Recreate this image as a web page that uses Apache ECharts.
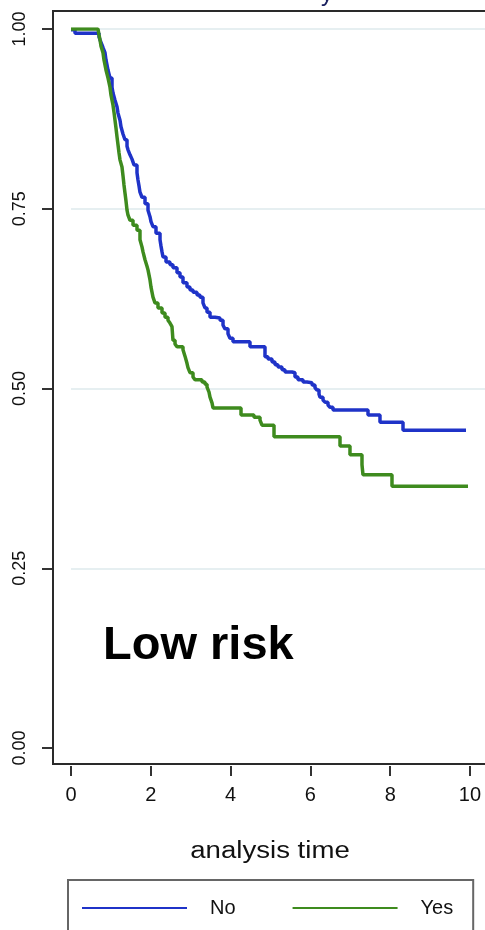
<!DOCTYPE html>
<html>
<head>
<meta charset="utf-8">
<script src="https://cdn.jsdelivr.net/npm/echarts@6/dist/echarts.min.js"></script>
<style>
html,body{margin:0;padding:0;background:#fff;}
#chart{width:485px;height:930px;}
</style>
</head>
<body>
<div id="chart"></div>
<script>
// Kaplan-Meier survival estimates: [analysis time, survival]
var seriesNames = ['No', 'Yes'];
var noData = [
  [0,0.999],[0.100,0.994],[0.702,0.989],[0.727,0.985],[0.777,0.978],[0.802,0.974],[0.852,0.967],[0.877,0.957],
  [0.902,0.950],[0.927,0.943],[0.977,0.932],[1.028,0.919],[1.053,0.911],[1.103,0.901],[1.153,0.892],[1.178,0.883],
  [1.228,0.873],[1.253,0.864],[1.303,0.854],[1.353,0.846],[1.404,0.837],[1.429,0.832],[1.479,0.825],[1.529,0.819],
  [1.579,0.811],[1.654,0.800],[1.679,0.790],[1.704,0.782],[1.729,0.773],[1.779,0.766],[1.855,0.757],[1.930,0.748],
  [1.980,0.739],[2.005,0.732],[2.055,0.725],[2.130,0.716],[2.231,0.707],[2.256,0.698],[2.281,0.690],[2.306,0.683],
  [2.381,0.676],[2.481,0.672],[2.556,0.668],[2.657,0.661],[2.732,0.655],[2.807,0.647],[2.907,0.641],[2.982,0.637],
  [3.058,0.634],[3.158,0.630],[3.233,0.627],[3.308,0.619],[3.358,0.612],[3.409,0.606],[3.484,0.599],[3.609,0.598],
  [3.734,0.595],[3.810,0.588],[3.860,0.583],[3.935,0.576],[3.985,0.570],[4.060,0.565],[4.486,0.558],[4.862,0.544],
  [4.937,0.541],[5.038,0.537],[5.113,0.533],[5.188,0.530],[5.288,0.526],[5.363,0.523],[5.539,0.522],[5.614,0.516],
  [5.689,0.512],[5.815,0.509],[5.915,0.508],[6.040,0.505],[6.115,0.501],[6.165,0.498],[6.216,0.492],[6.241,0.488],
  [6.316,0.484],[6.366,0.481],[6.441,0.477],[6.491,0.474],[6.566,0.470],[7.444,0.463],[7.744,0.453],[8.321,0.442],
  [9.900,0.442]
];
var yesData = [
  [0,1.000],[0.677,0.999],[0.702,0.992],[0.727,0.985],[0.752,0.976],[0.802,0.967],[0.827,0.957],[0.852,0.950],
  [0.877,0.943],[0.927,0.932],[0.977,0.919],[1.003,0.908],[1.028,0.901],[1.053,0.894],[1.078,0.884],[1.103,0.873],
  [1.128,0.862],[1.153,0.850],[1.178,0.839],[1.203,0.828],[1.228,0.818],[1.278,0.808],[1.303,0.796],[1.328,0.783],
  [1.353,0.772],[1.378,0.761],[1.404,0.748],[1.429,0.741],[1.479,0.734],[1.554,0.727],[1.654,0.720],[1.729,0.707],
  [1.779,0.697],[1.805,0.690],[1.855,0.679],[1.905,0.670],[1.930,0.665],[1.980,0.651],[2.005,0.641],[2.055,0.627],
  [2.105,0.619],[2.180,0.612],[2.281,0.605],[2.356,0.599],[2.431,0.595],[2.481,0.591],[2.531,0.586],[2.556,0.567],
  [2.607,0.562],[2.657,0.558],[2.807,0.554],[2.857,0.545],[2.907,0.535],[2.932,0.529],[2.982,0.522],[3.058,0.516],
  [3.108,0.512],[3.283,0.509],[3.358,0.506],[3.409,0.502],[3.459,0.495],[3.484,0.488],[3.534,0.480],[3.559,0.473],
  [4.261,0.463],[4.586,0.460],[4.737,0.456],[4.787,0.449],[5.088,0.433],[6.742,0.420],[6.992,0.408],[7.293,0.394],
  [7.318,0.380],[8.045,0.364],[9.950,0.364]
];
var xTicks = [0, 2, 4, 6, 8, 10];
var yTicks = [0, 0.25, 0.5, 0.75, 1];
var xTitle = 'analysis time';
var panelLabel = 'Low risk';
var titleFragment = 'y';

var font = '"Liberation Sans", Arial, Helvetica, sans-serif';
var chart = echarts.init(document.getElementById('chart'), null, {renderer: 'canvas'});
chart.setOption({
  backgroundColor: '#ffffff',
  animation: false,
  grid: {left: 71, right: 0, top: 29, bottom: 182, containLabel: false},
  xAxis: {
    type: 'value', min: xTicks[0], max: 10.376,
    offset: 18,
    axisLine: {show: false, onZero: false},
    axisTick: {show: true, length: 10, customValues: xTicks, lineStyle: {color: '#333', width: 2}},
    axisLabel: {
      margin: 19, color: '#111', fontFamily: font, fontSize: 20, customValues: xTicks,
      showMinLabel: true, showMaxLabel: true
    },
    splitLine: {show: false}
  },
  yAxis: {
    type: 'value', min: yTicks[0], max: yTicks[yTicks.length - 1], interval: 0.25,
    offset: 18,
    axisLine: {show: false, onZero: false},
    axisTick: {show: true, length: 11, lineStyle: {color: '#333', width: 2}},
    axisLabel: {
      margin: 24, rotate: 90, color: '#111', fontFamily: font, fontSize: 18,
      formatter: function (v) { return v.toFixed(2); }
    },
    splitLine: {show: true, showMinLine: false, lineStyle: {color: '#e6eff1', width: 2}}
  },
  legend: {
    data: seriesNames,
    left: 68, top: 880,
    orient: 'horizontal',
    padding: [18, 20, 30, 14],
    borderColor: '#666', borderWidth: 2, borderRadius: 0,
    itemWidth: 105, itemHeight: 2, itemGap: 57,
    icon: 'rect',
    textStyle: {fontFamily: font, fontSize: 20, color: '#111', padding: [0, 0, 0, 18]}
  },
  graphic: [
    {type: 'polyline', z: 10, silent: true,
     shape: {points: [[500, 11], [53, 11], [53, 764], [500, 764]]},
     style: {stroke: '#2a2a2a', lineWidth: 2, fill: null}},
    {type: 'text', x: 270, y: 852, z: 10, scaleX: 1.2, originX: 0, originY: 0,
     style: {text: xTitle, fontFamily: font, fontSize: 23, fill: '#111', align: 'center', verticalAlign: 'middle'}},
    {type: 'text', x: 103, y: 623, z: 10,
     style: {text: panelLabel, fontFamily: font, fontSize: 47, fontWeight: 'bold', fill: '#000', align: 'left', verticalAlign: 'top'}},
    {type: 'text', x: 321, y: -6, z: 10,
     style: {text: titleFragment, fontFamily: font, fontSize: 24, fill: '#1c2260', align: 'left', verticalAlign: 'middle'}}
  ],
  series: [
    {name: seriesNames[0], type: 'line', step: 'end', data: noData, showSymbol: false,
     color: '#1f33c8', lineStyle: {width: 3.5, color: '#1f33c8'}, z: 3},
    {name: seriesNames[1], type: 'line', step: 'end', data: yesData, showSymbol: false,
     color: '#3e8b1e', lineStyle: {width: 3.5, color: '#3e8b1e'}, z: 4}
  ]
});
</script>
</body>
</html>
